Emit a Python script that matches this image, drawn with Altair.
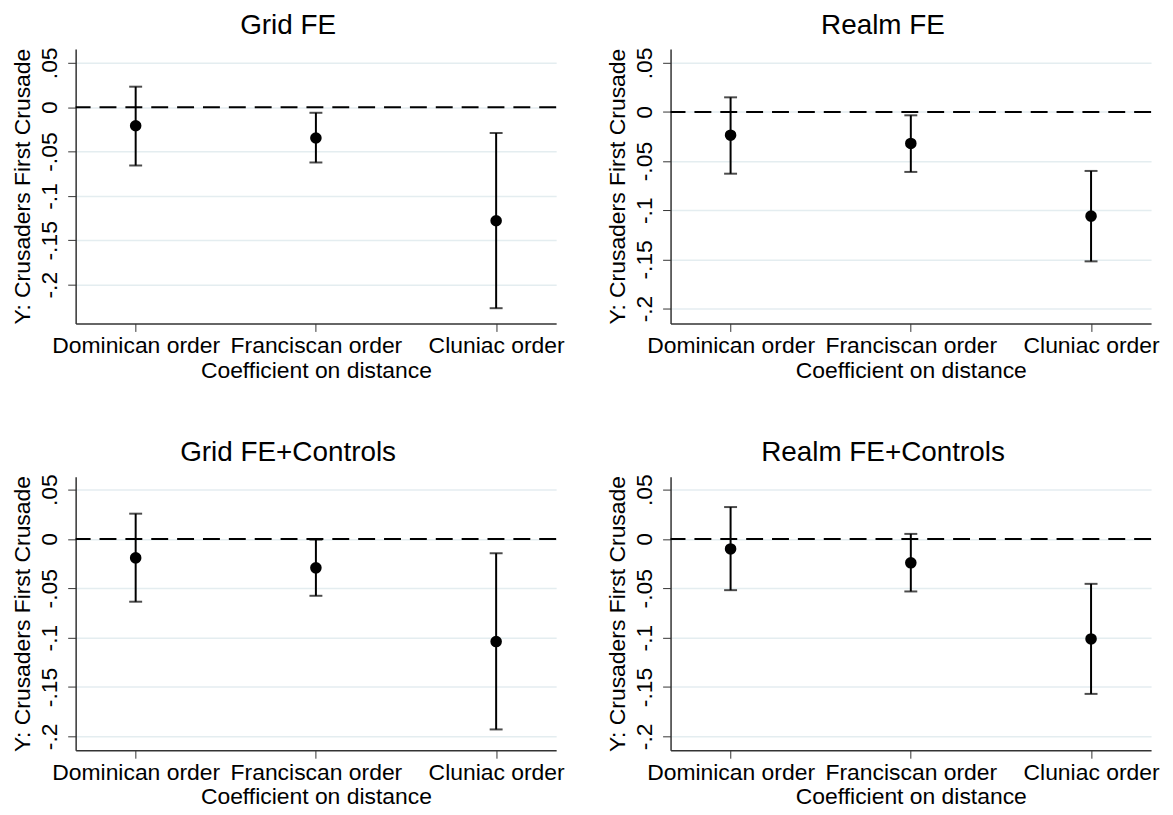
import altair as alt
import pandas as pd

orders = ["Dominican order", "Franciscan order", "Cluniac order"]
order_pos = [1, 2, 3]
panel_titles = ["Grid FE", "Realm FE", "Grid FE+Controls", "Realm FE+Controls"]

coef_grid = [-0.0209, -0.0347, -0.128]
lo_grid = [-0.0657, -0.0623, -0.2265]
hi_grid = [0.0231, -0.0063, -0.0291]

coef_realm = [-0.0236, -0.032, -0.106]
lo_realm = [-0.0628, -0.061, -0.152]
hi_realm = [0.0149, -0.0034, -0.060]

coef_gridc = [-0.0192, -0.0293, -0.104]
lo_gridc = [-0.0636, -0.0576, -0.193]
hi_gridc = [0.0256, -0.0007, -0.0145]

coef_realmc = [-0.0101, -0.0242, -0.1013]
lo_realmc = [-0.0519, -0.0532, -0.157]
hi_realmc = [0.0323, 0.0051, -0.0455]

y_ticks = [0.05, 0, -0.05, -0.1, -0.15, -0.2]
y_domains = [[-0.2437, 0.0657], [-0.2152, 0.0642], [-0.2141, 0.0631], [-0.2141, 0.0631]]
panel_heights = [276, 276, 275, 275]
x_domain = [0.667, 3.333]

FONT = "Liberation Sans"
Y_TITLE = "Y: Crusaders First Crusade"
X_TITLE = "Coefficient on distance"

x_label_expr = " : ".join(
    [f"datum.value == {p} ? '{o}'" for p, o in zip(order_pos[:-1], orders[:-1])]
) + f" : '{orders[-1]}'"
y_label_expr = "(datum.value < 0 ? '-' : '') + replace(format(abs(datum.value), '.2~f'), '0.', '.')"


def panel(title, coef, lo, hi, ydom, height):
    df = pd.DataFrame({"order": orders, "pos": order_pos, "coef": coef, "lo": lo, "hi": hi})
    zero_df = pd.DataFrame({"zero": [0.0]})

    xscale = alt.Scale(domain=x_domain, nice=False, zero=False)
    yscale = alt.Scale(domain=ydom, nice=False, zero=False)
    xaxis = alt.Axis(values=order_pos, labelExpr=x_label_expr, title=X_TITLE, grid=False,
                     labelAngle=0, labelPadding=3, titlePadding=2, labelOverlap=False,
                     labelFlush=False)
    yaxis = alt.Axis(values=y_ticks, labelExpr=y_label_expr, title=Y_TITLE, grid=True,
                     labelAngle=270, labelAlign="center", labelBaseline="bottom",
                     labelPadding=6, titlePadding=4, labelOverlap=False, labelFlush=False)

    def X(f):
        return alt.X(f, scale=xscale, axis=xaxis)

    def Y(f):
        return alt.Y(f, scale=yscale, axis=yaxis)

    base = alt.Chart(df)
    zero = alt.Chart(zero_df).mark_rule(strokeDash=[17, 9], strokeWidth=2, color="black").encode(
        y=Y("zero:Q")
    )
    ci = base.mark_rule(strokeWidth=2, color="black").encode(x=X("pos:Q"), y=Y("lo:Q"), y2="hi:Q")
    cap_lo = base.mark_tick(orient="horizontal", size=13, thickness=2, color="black").encode(
        x=X("pos:Q"), y=Y("lo:Q"))
    cap_hi = base.mark_tick(orient="horizontal", size=13, thickness=2, color="black").encode(
        x=X("pos:Q"), y=Y("hi:Q"))
    pts = base.mark_circle(size=135, color="black", opacity=1).encode(x=X("pos:Q"), y=Y("coef:Q"))

    return alt.layer(zero, ci, cap_lo, cap_hi, pts).properties(
        width=483, height=height,
        title=alt.TitleParams(title, fontSize=28, font=FONT, fontWeight="normal", color="black",
                              anchor="middle", frame="bounds", offset=7),
    )


data = [
    (coef_grid, lo_grid, hi_grid),
    (coef_realm, lo_realm, hi_realm),
    (coef_gridc, lo_gridc, hi_gridc),
    (coef_realmc, lo_realmc, hi_realmc),
]

charts = [panel(t, c, l, h, d, ht) for t, (c, l, h), d, ht in zip(panel_titles, data, y_domains, panel_heights)]

chart = alt.concat(*charts, columns=2, spacing={"row": 154, "column": 115}, bounds="flush").properties(
    padding={"left": 3, "top": 2, "right": 5, "bottom": 5}
).configure_view(stroke=None).configure_axis(
    labelFont=FONT, titleFont=FONT, labelFontSize=23, titleFontSize=23,
    labelColor="black", titleColor="black", titleFontWeight="normal",
    domainColor="#333333", domainWidth=1.5, tickColor="#333333", tickWidth=1, tickSize=8,
    gridColor="#e4edf0", gridWidth=1.5,
)

chart.save("out.html", embed_options={"renderer": "svg", "actions": False})
